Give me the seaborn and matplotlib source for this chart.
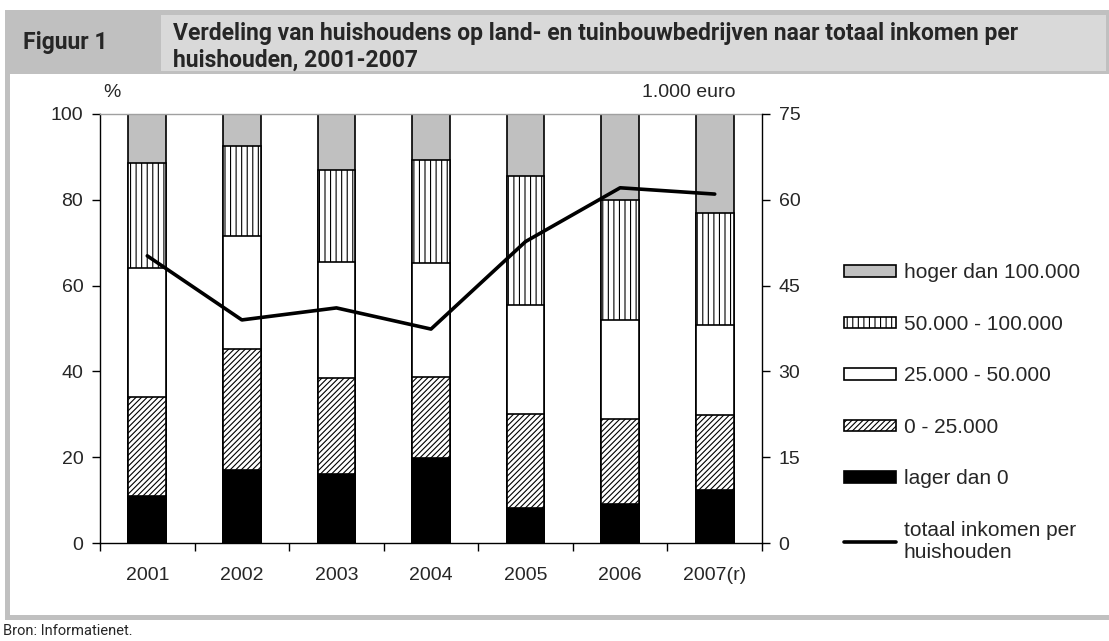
import numpy as np
import pandas as pd
import matplotlib
matplotlib.use("Agg")
import matplotlib.pyplot as plt
from matplotlib.patches import Rectangle
from matplotlib import font_manager
import seaborn as sns

# ---------------- data ----------------
years = ["2001", "2002", "2003", "2004", "2005", "2006", "2007(r)"]
lager_dan_0 = [11.0, 17.1, 16.0, 19.8, 8.1, 9.0, 12.3]
nul_25000 = [23.0, 28.2, 22.5, 19.0, 21.9, 19.9, 17.6]
k25_50000 = [30.0, 26.2, 27.1, 26.5, 25.5, 23.0, 21.0]
k50_100000 = [24.6, 21.0, 21.3, 23.9, 30.0, 28.1, 26.1]
hoger_100000 = [11.4, 7.5, 13.1, 10.8, 14.5, 20.0, 23.0]
inkomen = [50.2, 39.0, 41.1, 37.4, 52.7, 62.1, 61.0]

series_labels = ["hoger dan 100.000", "50.000 - 100.000", "25.000 - 50.000",
                 "0 - 25.000", "lager dan 0"]
line_label = "totaal inkomen per\nhuishouden"
left_ticks = [0, 20, 40, 60, 80, 100]
right_ticks = [0, 15, 30, 45, 60, 75]

# ---------------- style ----------------
sns.set_style("white")
avail = {f.name for f in font_manager.fontManager.ttflist}
narrow = "Liberation Sans Narrow" if "Liberation Sans Narrow" in avail else "Roboto"
plt.rcParams["font.family"] = ["Liberation Sans", "DejaVu Sans"]
plt.rcParams["hatch.linewidth"] = 0.8

W, H = 1109, 641
fig = plt.figure(figsize=(W / 100, H / 100), dpi=100)
fig.patch.set_facecolor("white")


def frect(x0, y0, x1, y1, color):
    fig.patches.append(Rectangle((x0 / W, 1 - y1 / H), (x1 - x0) / W, (y1 - y0) / H,
                                 transform=fig.transFigure, facecolor=color,
                                 edgecolor="none", zorder=-2))


# frame
frect(5, 10, W, 620, "#c0c0c0")
frect(10, 74, W, 615, "white")
frect(161, 15, 1106, 71, "#d9d9d9")

fig.text(23 / W, 1 - 43 / H, "Figuur 1", family=narrow, weight="bold",
         fontsize=16.5, va="center", ha="left")
fig.text(173 / W, 1 - 47 / H,
         "Verdeling van huishoudens op land- en tuinbouwbedrijven naar totaal inkomen per\n"
         "huishouden, 2001-2007",
         family=narrow, weight="bold", fontsize=16.5, va="center", ha="left",
         linespacing=1.2)
fig.text(3 / W, 1 - 631 / H, "Bron: Informatienet.", family=narrow, fontsize=10.5,
         va="center", ha="left")

# axes
ax = fig.add_axes([100 / W, 1 - 543 / H, 662 / W, 429 / H])
ax.set_facecolor("none")

shares = np.array([lager_dan_0, nul_25000, k25_50000, k50_100000, hoger_100000])
cum = np.cumsum(shares, axis=0)
df = pd.DataFrame({"jaar": years})
styles = [  # drawn from top segment down
    dict(color="#c0c0c0", hatch=None),
    dict(color="white", hatch="|||"),
    dict(color="white", hatch=None),
    dict(color="white", hatch="//////"),
    dict(color="black", hatch=None),
]
for i, st in enumerate(styles):
    level = 4 - i
    df["v"] = cum[level]
    kw = dict(x="jaar", y="v", data=df, ax=ax, color=st["color"], saturation=1,
              edgecolor="black", linewidth=1.2, width=0.4, order=years)
    if st["hatch"]:
        kw["hatch"] = st["hatch"]
    sns.barplot(**kw)

ax2 = ax.twinx()
ax2.set_facecolor("none")
sns.lineplot(x=np.arange(len(years)), y=inkomen, ax=ax2, color="black",
             linewidth=2.6)

ax.set_xlim(-0.5, len(years) - 0.5)
ax.set_ylim(0, 100)
ax2.set_ylim(0, 75)
ax.set_xlabel("")
ax.set_ylabel("")
ax2.set_ylabel("")

fs = 14
ax.set_yticks(left_ticks)
ax.set_yticklabels([str(t) for t in left_ticks], fontsize=fs)
ax2.set_yticks(right_ticks)
ax2.set_yticklabels([str(t) for t in right_ticks], fontsize=fs)
ax.set_xticks(range(len(years)))
ax.set_xticklabels(years, fontsize=fs)
ax.set_xticks(np.arange(-0.5, len(years), 1.0), minor=True)
ax.tick_params(axis="x", which="major", length=0, pad=17)
ax.tick_params(axis="x", which="minor", length=6, width=1, color="black",
               direction="out", bottom=True)
ax.tick_params(axis="y", length=6, width=1, color="black", direction="out", left=True,
               pad=6)
ax2.tick_params(axis="y", length=6, width=1, color="black", direction="out",
                right=True, pad=6)

for a in (ax, ax2):
    for s in a.spines.values():
        s.set_linewidth(1)
        s.set_color("black")
ax.spines["top"].set_color("#a0a0a0")
ax2.spines["top"].set_visible(False)
ax2.spines["left"].set_visible(False)
ax2.spines["bottom"].set_visible(False)
ax.spines["right"].set_visible(False)

ax.text(0.018, 1.05, "%", transform=ax.transAxes, fontsize=fs, ha="center",
        va="center")
ax.text(0.89, 1.05, "1.000 euro", transform=ax.transAxes, fontsize=fs,
        ha="center", va="center")

handles = list(ax.containers) + [ax2.lines[0]]
labels = series_labels + [line_label]
fig.legend(handles, labels, loc="upper left",
           bbox_to_anchor=(836 / W, 1 - 255 / H), frameon=False, fontsize=15,
           handlelength=2.5, handleheight=0.45, handletextpad=0.35,
           labelspacing=1.56, borderaxespad=0)

fig.savefig("out.png", dpi=100)
